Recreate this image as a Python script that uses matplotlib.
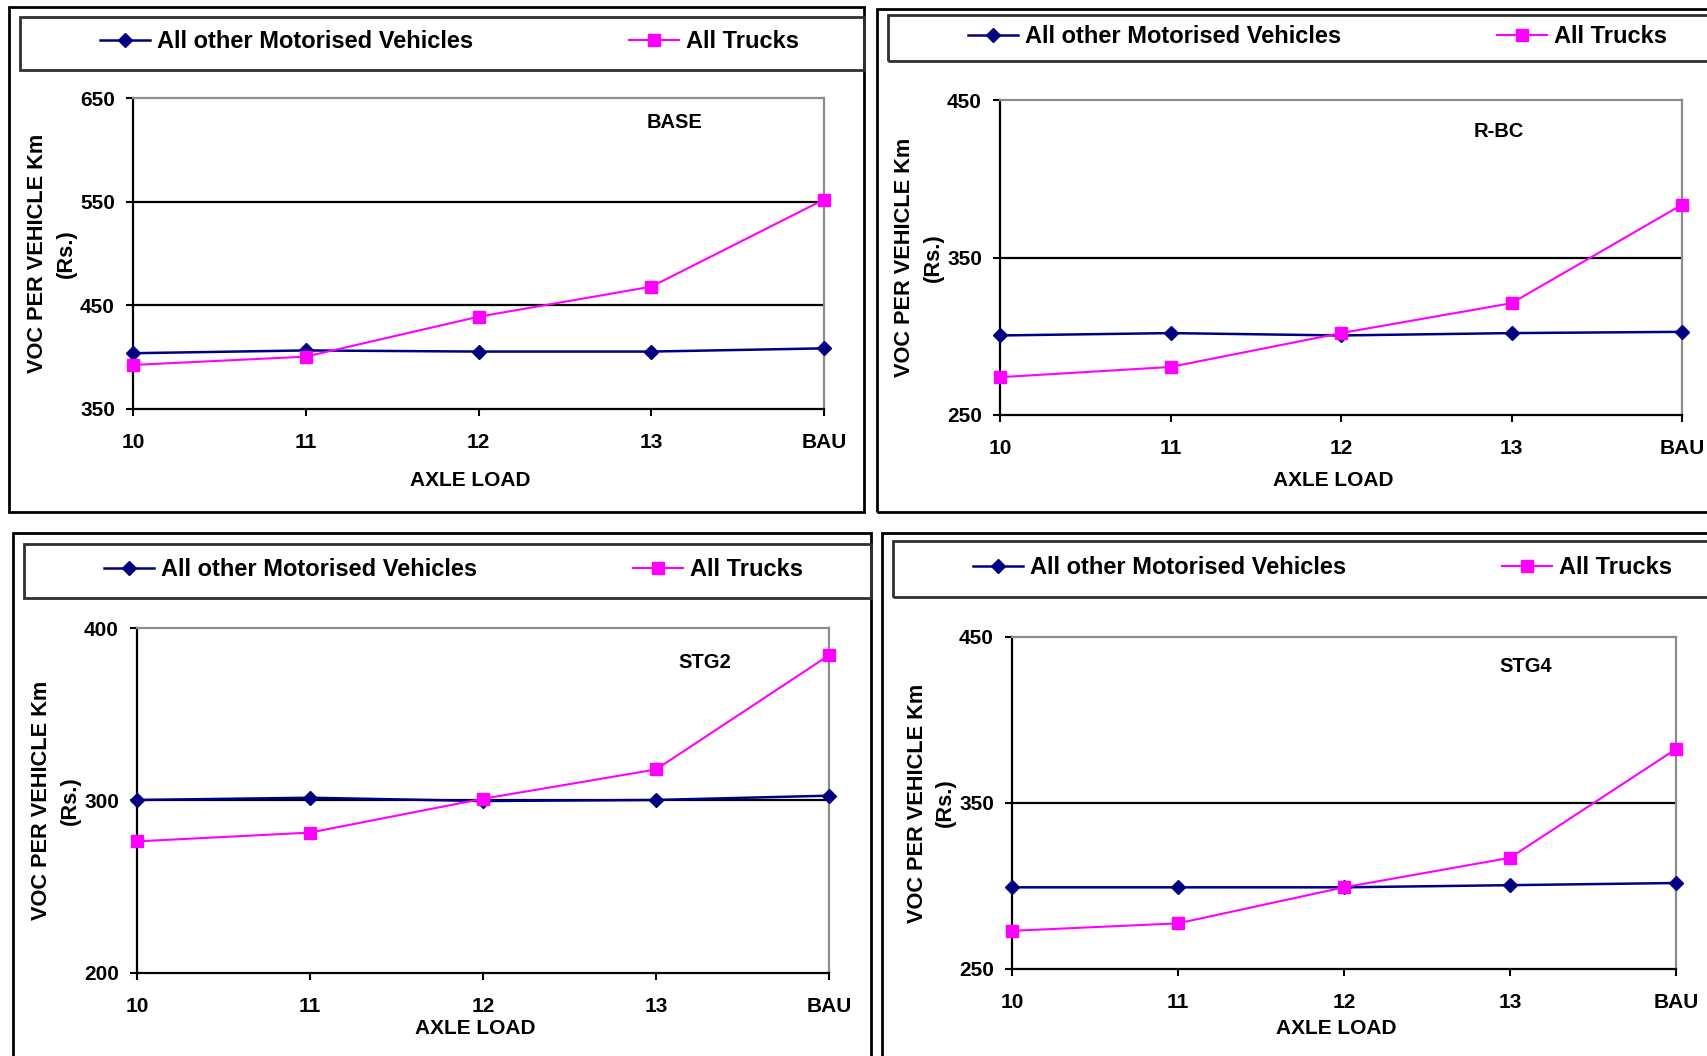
import matplotlib
matplotlib.use('Agg')
import matplotlib.pyplot as plt
from matplotlib.patches import Rectangle
from matplotlib.lines import Line2D

plt.rcParams['font.family'] = ['Liberation Sans', 'DejaVu Sans']
plt.rcParams['font.weight'] = 'bold'

# data
categories = ['10', '11', '12', '13', 'BAU']
series_names = ['All other Motorised Vehicles', 'All Trucks']

base_other = [403.8, 406.5, 405.4, 405.4, 408.5]
base_trucks = [392.5, 400.5, 439, 468, 552]
rbc_other = [300.5, 302, 300.5, 302, 302.8]
rbc_trucks = [274, 280.5, 302, 321, 383.5]
stg2_other = [300.3, 301.6, 299.7, 300.3, 302.8]
stg2_trucks = [276.3, 281.4, 301, 318, 384.2]
stg4_other = [299.2, 299.2, 299.2, 300.5, 301.8]
stg4_trucks = [273, 277.5, 299.2, 317, 382.5]

panel_titles = ['BASE', 'R-BC', 'STG2', 'STG4']
yticks_list = [[350, 450, 550, 650], [250, 350, 450], [200, 300, 400], [250, 350, 450]]
other_list = [base_other, rbc_other, stg2_other, stg4_other]
trucks_list = [base_trucks, rbc_trucks, stg2_trucks, stg4_trucks]

W, H = 1707, 1056
fig = plt.figure(figsize=(W / 100, H / 100), dpi=100)

# pixel layout: outer box, legend box, plot box (x0, y0, x1, y1 from top-left)
layout = [
    dict(outer=(9, 7, 864, 512), leg=(20, 17, 864, 70), plot=(133, 98, 824, 409),
         title=(0.784, 0.92), xlab=71),
    dict(outer=(877, 9, 1715, 512), leg=(888, 15, 1715, 61), plot=(1000, 100, 1682, 415),
         title=(0.732, 0.90), xlab=65),
    dict(outer=(13, 533, 871, 1065), leg=(24, 544, 871, 598), plot=(137, 628, 829, 973),
         title=(0.821, 0.90), xlab=56),
    dict(outer=(882, 533, 1715, 1065), leg=(893, 541, 1715, 597), plot=(1012, 637, 1676, 969),
         title=(0.774, 0.91), xlab=60),
]


def fig_rect(box):
    x0, y0, x1, y1 = box
    return (x0 / W, 1 - y1 / H, (x1 - x0) / W, (y1 - y0) / H)


navy = '#000080'
magenta = '#FF00FF'
fs_leg = 17

for i, lay in enumerate(layout):
    # panel frame and legend frame
    for key, ec in [('outer', 'black'), ('leg', '#303030')]:
        x, y, w, h = fig_rect(lay[key])
        fig.add_artist(Rectangle((x, y), w, h, transform=fig.transFigure,
                                 fill=False, edgecolor=ec, linewidth=2))

    ax = fig.add_axes(fig_rect(lay['plot']))
    xs = range(len(categories))
    ax.plot(xs, other_list[i], color=navy, lw=1.8, marker='D', ms=7,
            markerfacecolor=navy, markeredgecolor=navy, zorder=4, clip_on=False)
    ax.plot(xs, trucks_list[i], color=magenta, lw=1.5, marker='s', ms=8.5,
            markerfacecolor=magenta, markeredgecolor=magenta, zorder=5, clip_on=False)

    yt = yticks_list[i]
    ax.set_ylim(yt[0], yt[-1])
    ax.set_xlim(0, len(categories) - 1)
    ax.set_yticks(yt)
    ax.set_xticks(list(xs))
    ax.set_xticklabels(categories)
    for t in yt[1:-1]:
        ax.axhline(t, color='black', lw=1.6, zorder=2)

    for s in ['left', 'bottom']:
        ax.spines[s].set_color('black')
        ax.spines[s].set_linewidth(1.6)
    for s in ['top', 'right']:
        ax.spines[s].set_color('#8c8c8c')
        ax.spines[s].set_linewidth(1.6)

    ax.tick_params(axis='y', direction='out', length=5, width=1.5, pad=8, labelsize=15)
    ax.tick_params(axis='x', direction='out', length=5, width=1.5, pad=12, labelsize=15)
    for lab in ax.get_xticklabels() + ax.get_yticklabels():
        lab.set_fontweight('bold')

    ax.annotate('AXLE LOAD', xy=(0.5, 0), xycoords='axes fraction',
                xytext=(-8, -lay['xlab']), textcoords='offset pixels',
                ha='center', va='center', fontsize=15, fontweight='bold')
    ax.annotate('VOC PER VEHICLE Km', xy=(0, 0.5), xycoords='axes fraction',
                xytext=(-95, 0), textcoords='offset pixels', rotation=90,
                ha='center', va='center', fontsize=15.7, fontweight='bold')
    ax.annotate('(Rs.)', xy=(0, 0.5), xycoords='axes fraction',
                xytext=(-67, 0), textcoords='offset pixels', rotation=90,
                ha='center', va='center', fontsize=15.7, fontweight='bold')
    ax.text(lay['title'][0], lay['title'][1], panel_titles[i], transform=ax.transAxes,
            ha='center', va='center', fontsize=14.5, fontweight='bold')

    # legend entries placed inside the legend frame
    lx0, ly0, lx1, ly1 = lay['leg']
    yc = 1 - ((ly0 + ly1) / 2 - 1.5) / H
    handles = [Line2D([], [], color=navy, lw=1.8, marker='D', ms=7),
               Line2D([], [], color=magenta, lw=1.5, marker='s', ms=8.5)]
    for h, name, off in zip(handles, series_names, [80, 609]):
        fig.legend([h], [name], loc='center left', bbox_to_anchor=((lx0 + off) / W, yc),
                   frameon=False, borderpad=0, borderaxespad=0, handlelength=50 / (fs_leg * 1.389),
                   handletextpad=0.3, prop={'size': fs_leg, 'weight': 'bold'})

fig.savefig('out.png', dpi=100)
